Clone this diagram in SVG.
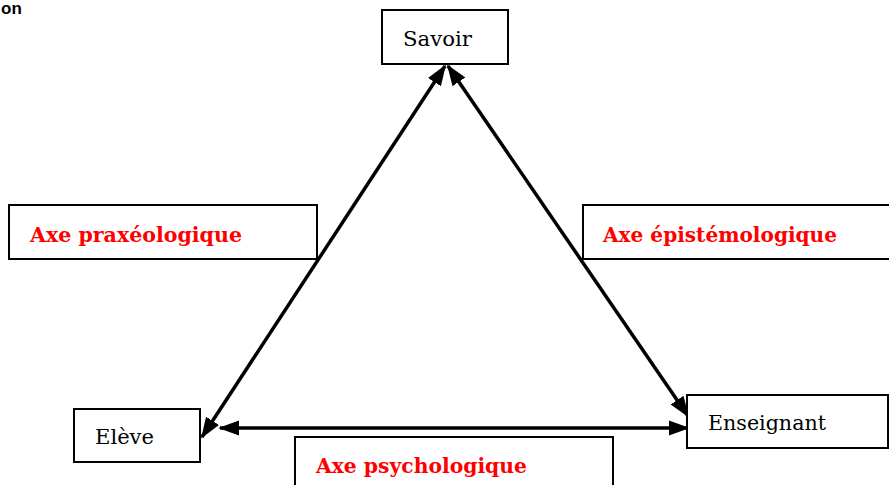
<svg xmlns="http://www.w3.org/2000/svg" width="889" height="485" viewBox="0 0 889 485">
<style>
.box{fill:#fff;stroke:#000;stroke-width:2}
.t{font-family:'DejaVu Serif',serif;font-size:20px;fill:#000}
.r{font-family:'DejaVu Serif',serif;font-size:21px;font-weight:bold;fill:#ff0000}
.c{stroke:#000;stroke-width:3.5;fill:none}
</style>
<defs>
<marker id="ah" markerWidth="6" markerHeight="4.4" refX="5.5" refY="2.2" orient="auto-start-reverse" markerUnits="strokeWidth">
<path d="M0,0 L6,2.2 L0,4.4 Z" fill="#000"/>
</marker>
</defs>
<text x="1" y="14" font-family="Liberation Sans, Arial, sans-serif" font-size="17" font-weight="bold" fill="#000">on</text>
<g id="connectors">
<line class="c" x1="445" y1="66" x2="202" y2="437" marker-start="url(#ah)" marker-end="url(#ah)"/>
<line class="c" x1="448" y1="66" x2="688" y2="416" marker-start="url(#ah)" marker-end="url(#ah)"/>
<line class="c" x1="220" y1="428" x2="688" y2="428" marker-start="url(#ah)" marker-end="url(#ah)"/>
</g>
<g id="savoir"><rect class="box" x="382" y="10" width="126" height="54"/><text class="t" x="403" y="46" textLength="69" lengthAdjust="spacingAndGlyphs">Savoir</text></g>
<g id="praxeo"><rect class="box" x="9" y="205" width="308" height="54"/><text class="r" x="30" y="242" textLength="212" lengthAdjust="spacingAndGlyphs">Axe praxéologique</text></g>
<g id="episte"><rect class="box" x="583" y="205" width="310" height="54"/><text class="r" x="603" y="242" textLength="234" lengthAdjust="spacingAndGlyphs">Axe épistémologique</text></g>
<g id="eleve"><rect class="box" x="74" y="409" width="126" height="53"/><text class="t" x="95" y="444" textLength="59" lengthAdjust="spacingAndGlyphs">Elève</text></g>
<g id="psycho"><rect class="box" x="295" y="437" width="318" height="60"/><text class="r" x="316" y="473" textLength="211" lengthAdjust="spacingAndGlyphs">Axe psychologique</text></g>
<g id="enseignant"><rect class="box" x="687" y="395" width="201" height="53"/><text class="t" x="708" y="430" textLength="118" lengthAdjust="spacingAndGlyphs">Enseignant</text></g>
</svg>
